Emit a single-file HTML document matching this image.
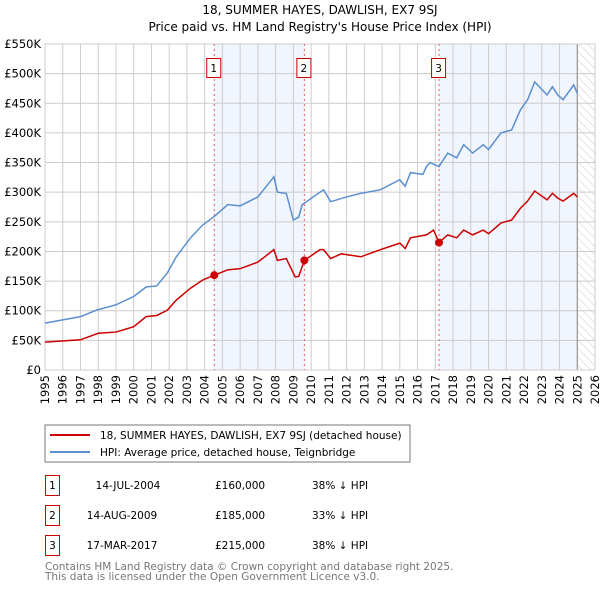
<!DOCTYPE html>
<html><head><meta charset="utf-8"><style>
body{margin:0;background:#fff;font-family:"Liberation Sans","DejaVu Sans",sans-serif}
svg text{font-family:"DejaVu Sans","Liberation Sans",sans-serif}
</style></head><body>
<svg id="c" width="600" height="590" viewBox="0 0 600 590">
<defs><pattern id="hatch" width="6" height="6" patternUnits="userSpaceOnUse" patternTransform="rotate(-45)"><line x1="0" y1="0" x2="0" y2="6" stroke="#ccc" stroke-width="1"/></pattern></defs>
<text x="320" y="14" text-anchor="middle" font-size="12">18, SUMMER HAYES, DAWLISH, EX7 9SJ</text>
<text x="320" y="31" text-anchor="middle" font-size="12">Price paid vs. HM Land Registry's House Price Index (HPI)</text>
<g id="plot"></g>
<rect x="45" y="425" width="365" height="37" fill="#fff" stroke="#777"/>
<line x1="50" y1="435" x2="90" y2="435" stroke="#cc0000" stroke-width="2"/>
<text x="100" y="439" font-size="10.5">18, SUMMER HAYES, DAWLISH, EX7 9SJ (detached house)</text>
<line x1="50" y1="452" x2="90" y2="452" stroke="#5b8fd0" stroke-width="2"/>
<text x="100" y="456" font-size="10.5">HPI: Average price, detached house, Teignbridge</text>
<g font-size="10.5">
<rect x="45.5" y="475.5" width="14" height="20" fill="none" stroke="#cc0000"/><text x="52.5" y="489" text-anchor="middle">1</text>
<text x="128" y="489" text-anchor="middle">14-JUL-2004</text><text x="215" y="489">£160,000</text><text x="312" y="489">38% ↓ HPI</text>
<rect x="45.5" y="505.5" width="14" height="20" fill="none" stroke="#cc0000"/><text x="52.5" y="519" text-anchor="middle">2</text>
<text x="122" y="519" text-anchor="middle">14-AUG-2009</text><text x="215" y="519">£185,000</text><text x="312" y="519">33% ↓ HPI</text>
<rect x="45.5" y="535.5" width="14" height="20" fill="none" stroke="#cc0000"/><text x="52.5" y="549" text-anchor="middle">3</text>
<text x="122" y="549" text-anchor="middle">17-MAR-2017</text><text x="215" y="549">£215,000</text><text x="312" y="549">38% ↓ HPI</text>
</g>
<text x="45" y="570" font-size="10.5" fill="#777">Contains HM Land Registry data © Crown copyright and database right 2025.</text>
<text x="45" y="580" font-size="10.5" fill="#777">This data is licensed under the Open Government Licence v3.0.</text>
</svg>
<script>
const hpiYears=[1995,1997,1997.9,1999,2000,2000.7,2001.3,2001.9,2002.4,2003.2,2003.9,2004.5,2005.3,2006,2007,2007.9,2008.1,2008.6,2009,2009.3,2009.5,2010.5,2010.7,2011.1,2012,2012.8,2013.9,2015,2015.3,2015.6,2016.3,2016.5,2016.7,2017.2,2017.7,2018.2,2018.6,2019.1,2019.7,2020,2020.7,2021.3,2021.8,2022.2,2022.6,2023.3,2023.6,2023.9,2024.2,2024.8,2025];
const hpiValues=[79,90,101,110,124,140,142,164,191,223,245,258,279,277,292,326,300,298,253,258,279,300,304,284,292,298,304,321,310,333,330,343,350,343,366,358,380,366,380,372,400,405,439,456,486,464,478,464,456,481,467];
const propYears=[1995,1997,1998,1999,2000,2000.7,2001.3,2001.9,2002.4,2003.2,2003.9,2004.54,2005.3,2006,2007,2007.9,2008.1,2008.6,2009.1,2009.3,2009.62,2010.5,2010.7,2011.1,2011.7,2012.8,2013.9,2015,2015.3,2015.6,2016.5,2016.9,2017.21,2017.7,2018.2,2018.6,2019.1,2019.7,2020,2020.7,2021.3,2021.8,2022.2,2022.6,2023.3,2023.6,2023.9,2024.2,2024.8,2025];
const propValues=[47,51,62,64,73,90,92,101,118,138,152,160,169,171,182,203,185,188,157,158,185,203,203,188,196,191,203,214,205,223,228,236,215,228,223,236,228,236,230,248,253,273,285,302,287,298,290,285,298,292];
const saleLabels=["1","2","3"];
const saleYears=[2004.54,2009.62,2017.21];
const saleValues=[160,185,215];
const yTicks=[0,50,100,150,200,250,300,350,400,450,500,550];
const xTicks=[1995,1996,1997,1998,1999,2000,2001,2002,2003,2004,2005,2006,2007,2008,2009,2010,2011,2012,2013,2014,2015,2016,2017,2018,2019,2020,2021,2022,2023,2024,2025,2026];
const X0=45,X1=595,Y0=370,Y1=44;
const xs=y=>X0+(y-1995)/(2026-1995)*(X1-X0);
const ys=v=>Y0-v/550*(Y0-Y1);
const NS="http://www.w3.org/2000/svg";
const g=document.getElementById('plot');
function mk(t,a,p){const e=document.createElementNS(NS,t);for(const k in a)e.setAttribute(k,a[k]);(p||g).appendChild(e);return e;}
let e;
e=mk('rect',{x:X0,y:Y1,width:X1-X0,height:Y0-Y1,fill:'#fff'});


e=mk('rect',{x:xs(saleYears[0]),y:Y1,width:xs(saleYears[1])-xs(saleYears[0]),height:Y0-Y1,fill:'#eef3fc',opacity:0.8});


e=mk('rect',{x:xs(saleYears[2]),y:Y1,width:xs(2025)-xs(saleYears[2]),height:Y0-Y1,fill:'#eef3fc',opacity:0.8});


e=mk('rect',{x:xs(2025),y:Y1,width:X1-xs(2025),height:Y0-Y1,fill:'url(#hatch)'});


xTicks.forEach(t=>{const x=xs(t);
 e=mk('line',{x1:x,x2:x,y1:Y1,y2:Y0,stroke:'#ccc'});
 
 
 e=mk('text',{x:0,y:0,'text-anchor':'end','font-size':'11.5',transform:'translate('+(x+4)+','+(Y0+5)+') rotate(-90)'});e.textContent=t;
 
 });
yTicks.forEach(t=>{const y=ys(t);
 e=mk('line',{x1:X0,x2:X1,y1:y,y2:y,stroke:'#ccc'});
 
 
 e=mk('text',{x:X0-4,y:y+4,'text-anchor':'end','font-size':'11.5'});e.textContent=t===0?'£0':'£'+t+'K';
 
 });
e=mk('line',{x1:xs(2025),x2:xs(2025),y1:Y1,y2:Y0,stroke:'#888','stroke-width':1});


e=mk('rect',{x:X0,y:Y1,width:X1-X0,height:Y0-Y1,fill:'none',stroke:'#ccc'});


saleYears.forEach((s,i)=>{const x=xs(s);
 e=mk('line',{x1:x,x2:x,y1:Y1,y2:Y0,stroke:'#e06060','stroke-dasharray':'2,3'});
 
 });
e=mk('polyline',{points:hpiYears.map((y,i)=>xs(y)+','+ys(hpiValues[i])).join(' '),fill:'none',stroke:'#5b8fd0','stroke-width':1.5});


e=mk('polyline',{points:propYears.map((y,i)=>xs(y)+','+ys(propValues[i])).join(' '),fill:'none',stroke:'#cc0000','stroke-width':1.5});


saleYears.forEach((s,i)=>{const x=xs(s);
 e=mk('circle',{cx:x,cy:ys(saleValues[i]),r:4,fill:'#cc0000'});
 
 
 e=mk('rect',{x:x-7.5,y:58.5,width:14,height:19,fill:'#fff',stroke:'#cc0000'});
 
 
 e=mk('text',{x:x-0.5,y:72,'text-anchor':'middle','font-size':'10.5'});e.textContent=saleLabels[i];
 
 });
</script>
</body></html>
